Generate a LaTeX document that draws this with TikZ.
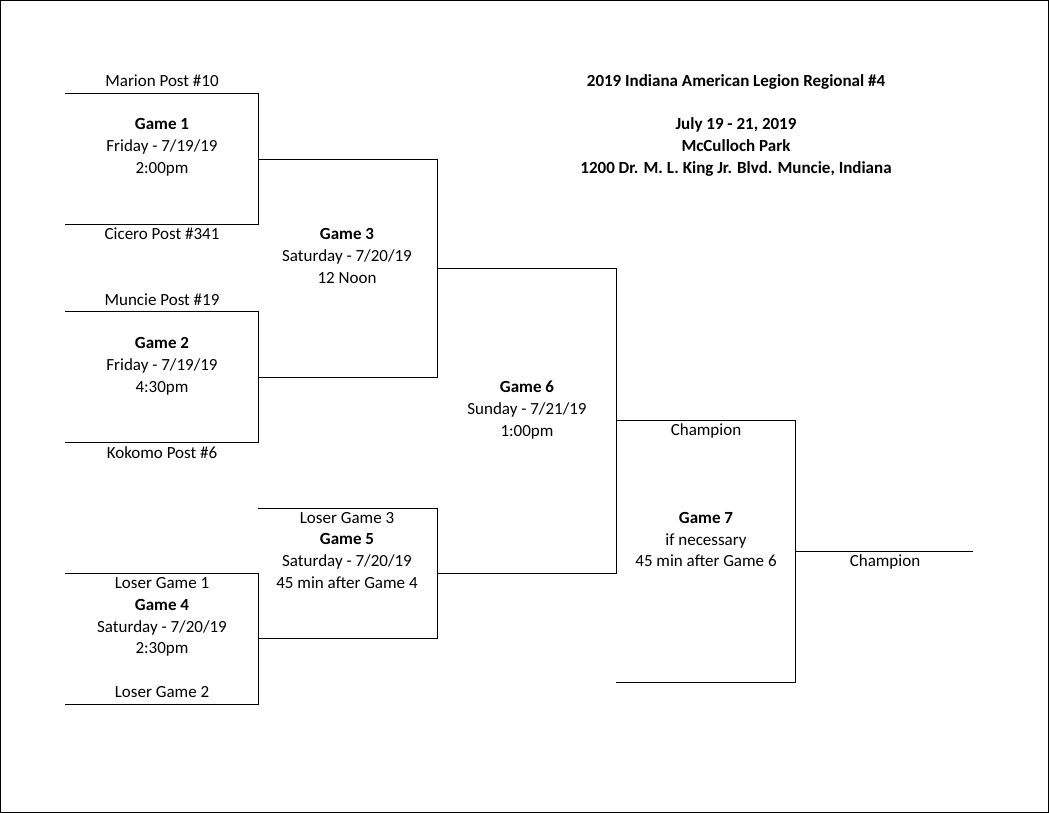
\documentclass[tikz,border=0pt]{standalone}
\usepackage{fontspec}
\setmainfont{Carlito}
\tikzset{
  txt/.style={font=\fontsize{17}{20}\selectfont, inner sep=0pt, anchor=center, text height=8.5pt, text depth=2.5pt},
  hd/.style={txt, font=\fontsize{17}{20}\selectfont\bfseries},
  bk/.style={draw=black, line width=0.8pt}
}
\begin{document}
\begin{tikzpicture}[x=1pt,y=-1pt]
    \draw[line width=0.8pt] (0.5,0.5) rectangle (1048.5,812.5);
    \useasboundingbox (0,0) rectangle (1049,813);
    % first round
    \draw[bk] (65,93) -- (258,93) -- (258,224) -- (65,224);
    \draw[bk] (65,311) -- (258,311) -- (258,442) -- (65,442);
    \draw[bk] (65,573) -- (258,573) -- (258,704) -- (65,704);
    % second round
    \draw[bk] (258,159) -- (437,159) -- (437,377) -- (258,377);
    \draw[bk] (258,508) -- (437,508) -- (437,638) -- (258,638);
    % semis
    \draw[bk] (437,268) -- (616,268) -- (616,573) -- (437,573);
    % final
    \draw[bk] (616,420) -- (795,420) -- (795,682) -- (616,682);
    \draw[bk] (795,551) -- (973,551);
    % game 1
    \node[txt] (t1) at (162,84) {Marion Post \#10};
    \node[hd] (g1) at (162,127) {Game 1};
    \node[txt] (d1) at (162,149) {Friday - 7/19/19};
    \node[txt] (h1) at (162,171) {2:00pm};
    \node[txt] (t2) at (162,237) {Cicero Post \#341};
    % game 2
    \node[txt] (t3) at (162,302) {Muncie Post \#19};
    \node[hd] (g2) at (162,345) {Game 2};
    \node[txt] (d2) at (162,367) {Friday - 7/19/19};
    \node[txt] (h2) at (162,389) {4:30pm};
    \node[txt] (t4) at (162,455) {Kokomo Post \#6};
    % game 4
    \node[txt] (l1) at (162,585) {Loser Game 1};
    \node[hd] (g4) at (162,607) {Game 4};
    \node[txt] (d4) at (162,629) {Saturday - 7/20/19};
    \node[txt] (h4) at (162,650) {2:30pm};
    \node[txt] (l2) at (162,694) {Loser Game 2};
    % game 3
    \node[hd] (g3) at (347,236) {Game 3};
    \node[txt] (d3) at (347,258) {Saturday - 7/20/19};
    \node[txt] (h3) at (347,280) {12 Noon};
    % game 5
    \node[txt] (l3) at (347,520) {Loser Game 3};
    \node[hd] (g5) at (347,541) {Game 5};
    \node[txt] (d5) at (347,563) {Saturday - 7/20/19};
    \node[txt] (h5) at (347,585) {45 min after Game 4};
    % game 6
    \node[hd] (g6) at (527,389) {Game 6};
    \node[txt] (d6) at (527,411) {Sunday - 7/21/19};
    \node[txt] (h6) at (527,433) {1:00pm};
    % game 7
    \node[txt] (c1) at (706,432) {Champion};
    \node[hd] (g7) at (706,520) {Game 7};
    \node[txt] (d7) at (706,542) {if necessary};
    \node[txt] (h7) at (706,563) {45 min after Game 6};
    \node[txt] (c2) at (885,563) {Champion};
    % title
    \node[hd] (ti) at (736,84) {2019 Indiana American Legion Regional \#4};
    \node[hd] (da) at (736,127) {July 19 - 21, 2019};
    \node[hd] (pk) at (736,149) {McCulloch Park};
    \node[hd] (ad) at (736,171) {1200 Dr. M. L. King Jr. Blvd. Muncie, Indiana};
\end{tikzpicture}
\end{document}
